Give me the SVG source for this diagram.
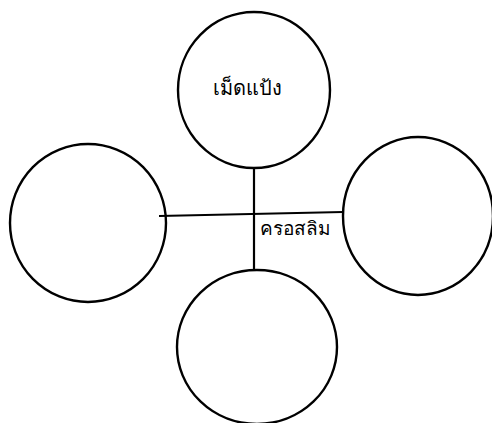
<svg xmlns="http://www.w3.org/2000/svg" width="492" height="423" viewBox="0 0 492 423">
<style>
.c{fill:none;stroke:#000;stroke-width:2.4}
.l{fill:none;stroke:#000;stroke-width:2.2}
.t{font-family:"Noto Sans","DejaVu Sans",sans-serif;fill:#000}
</style>
<rect width="492" height="423" fill="#fff"/>
<g id="connectors">
<path class="l" d="M159 216 L343 212"/>
<path class="l" d="M254 168 L254 269"/>
</g>
<g id="top">
<ellipse class="c" cx="254" cy="90" rx="76" ry="78"/>
<text class="t" x="247" y="95" font-size="20" text-anchor="middle">เม็ดแป้ง</text>
</g>
<g id="left">
<ellipse class="c" cx="88" cy="223" rx="78" ry="79"/>
</g>
<g id="right">
<ellipse class="c" cx="418" cy="216" rx="75" ry="79"/>
</g>
<g id="bottom">
<ellipse class="c" cx="257" cy="347" rx="80" ry="77"/>
</g>
<text class="t" x="295" y="235" font-size="19" text-anchor="middle">ครอสลิม</text>
</svg>
